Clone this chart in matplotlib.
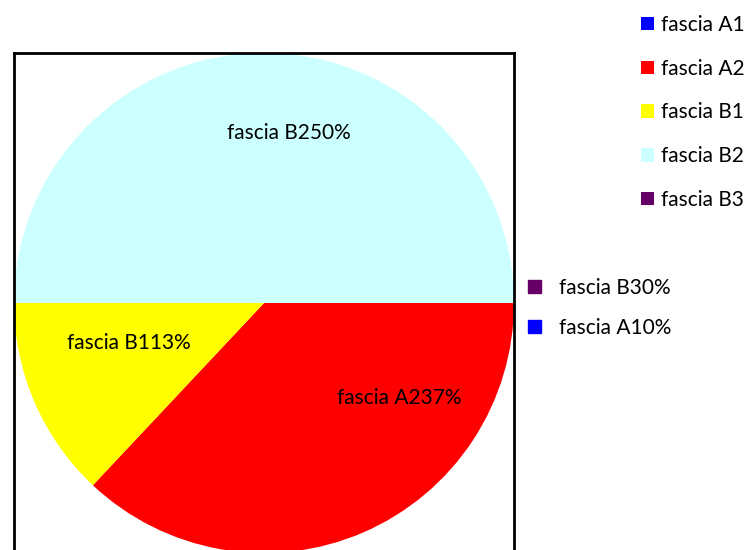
import numpy as np
import matplotlib.pyplot as plt
from matplotlib.patches import Patch

plt.rcParams['font.family'] = ['Lato', 'DejaVu Sans']

# dati
fasce = ["fascia A1", "fascia A2", "fascia B1", "fascia B2", "fascia B3"]
valori = [0, 37, 13, 50, 0]
colori = ["#0000FF", "#FF0000", "#FFFF00", "#CCFFFF", "#660066"]

# posizione delle etichette dentro le fette (coordinate del grafico)
pos_etichette = {"fascia A2": (0.54, -0.38), "fascia B1": (-0.54, -0.16), "fascia B2": (0.10, 0.68)}

fig = plt.figure(figsize=(7.54, 5.5), dpi=100)
ax = fig.add_axes([14/754, -3/550, 500/754, 500/550])

wedges, _ = ax.pie(valori, colors=colori, startangle=0, counterclock=False, radius=1,
                   wedgeprops=dict(linewidth=0), frame=True)
ax.set_xlim(-1, 1)
ax.set_ylim(-1, 1)
ax.set_aspect('auto')
ax.set_frame_on(True)
for s in ax.spines.values():
  s.set_visible(True)
  s.set_linewidth(2)
  s.set_color('black')
ax.set_xticks([])
ax.set_yticks([])

tot = sum(valori)
for nome, v in zip(fasce, valori):
  if nome in pos_etichette:
    x, y = pos_etichette[nome]
    ax.text(x, y, f"{nome}{round(v / tot * 100)}%", ha='center', va='center', fontsize=15)

# legenda principale
leg = fig.legend(wedges, fasce, loc='upper left', bbox_to_anchor=(641/754, 1 - 15/550),
                 frameon=False, fontsize=15, handlelength=0.63, handleheight=0.63,
                 handletextpad=0.34, labelspacing=1.14, borderaxespad=0, borderpad=0)

# etichette delle fette a zero, fuori dal grafico
zeri = [4, 0]
handles = [Patch(color=colori[i]) for i in zeri]
labels = [f"{fasce[i]}{round(valori[i] / tot * 100)}%" for i in zeri]
fig.legend(handles, labels, loc='upper left', bbox_to_anchor=(528/754, 1 - 278/550),
           frameon=False, fontsize=15, handlelength=0.63, handleheight=0.63,
           handletextpad=0.86, labelspacing=0.96, borderaxespad=0, borderpad=0)

fig.savefig("out.png", dpi=100)
